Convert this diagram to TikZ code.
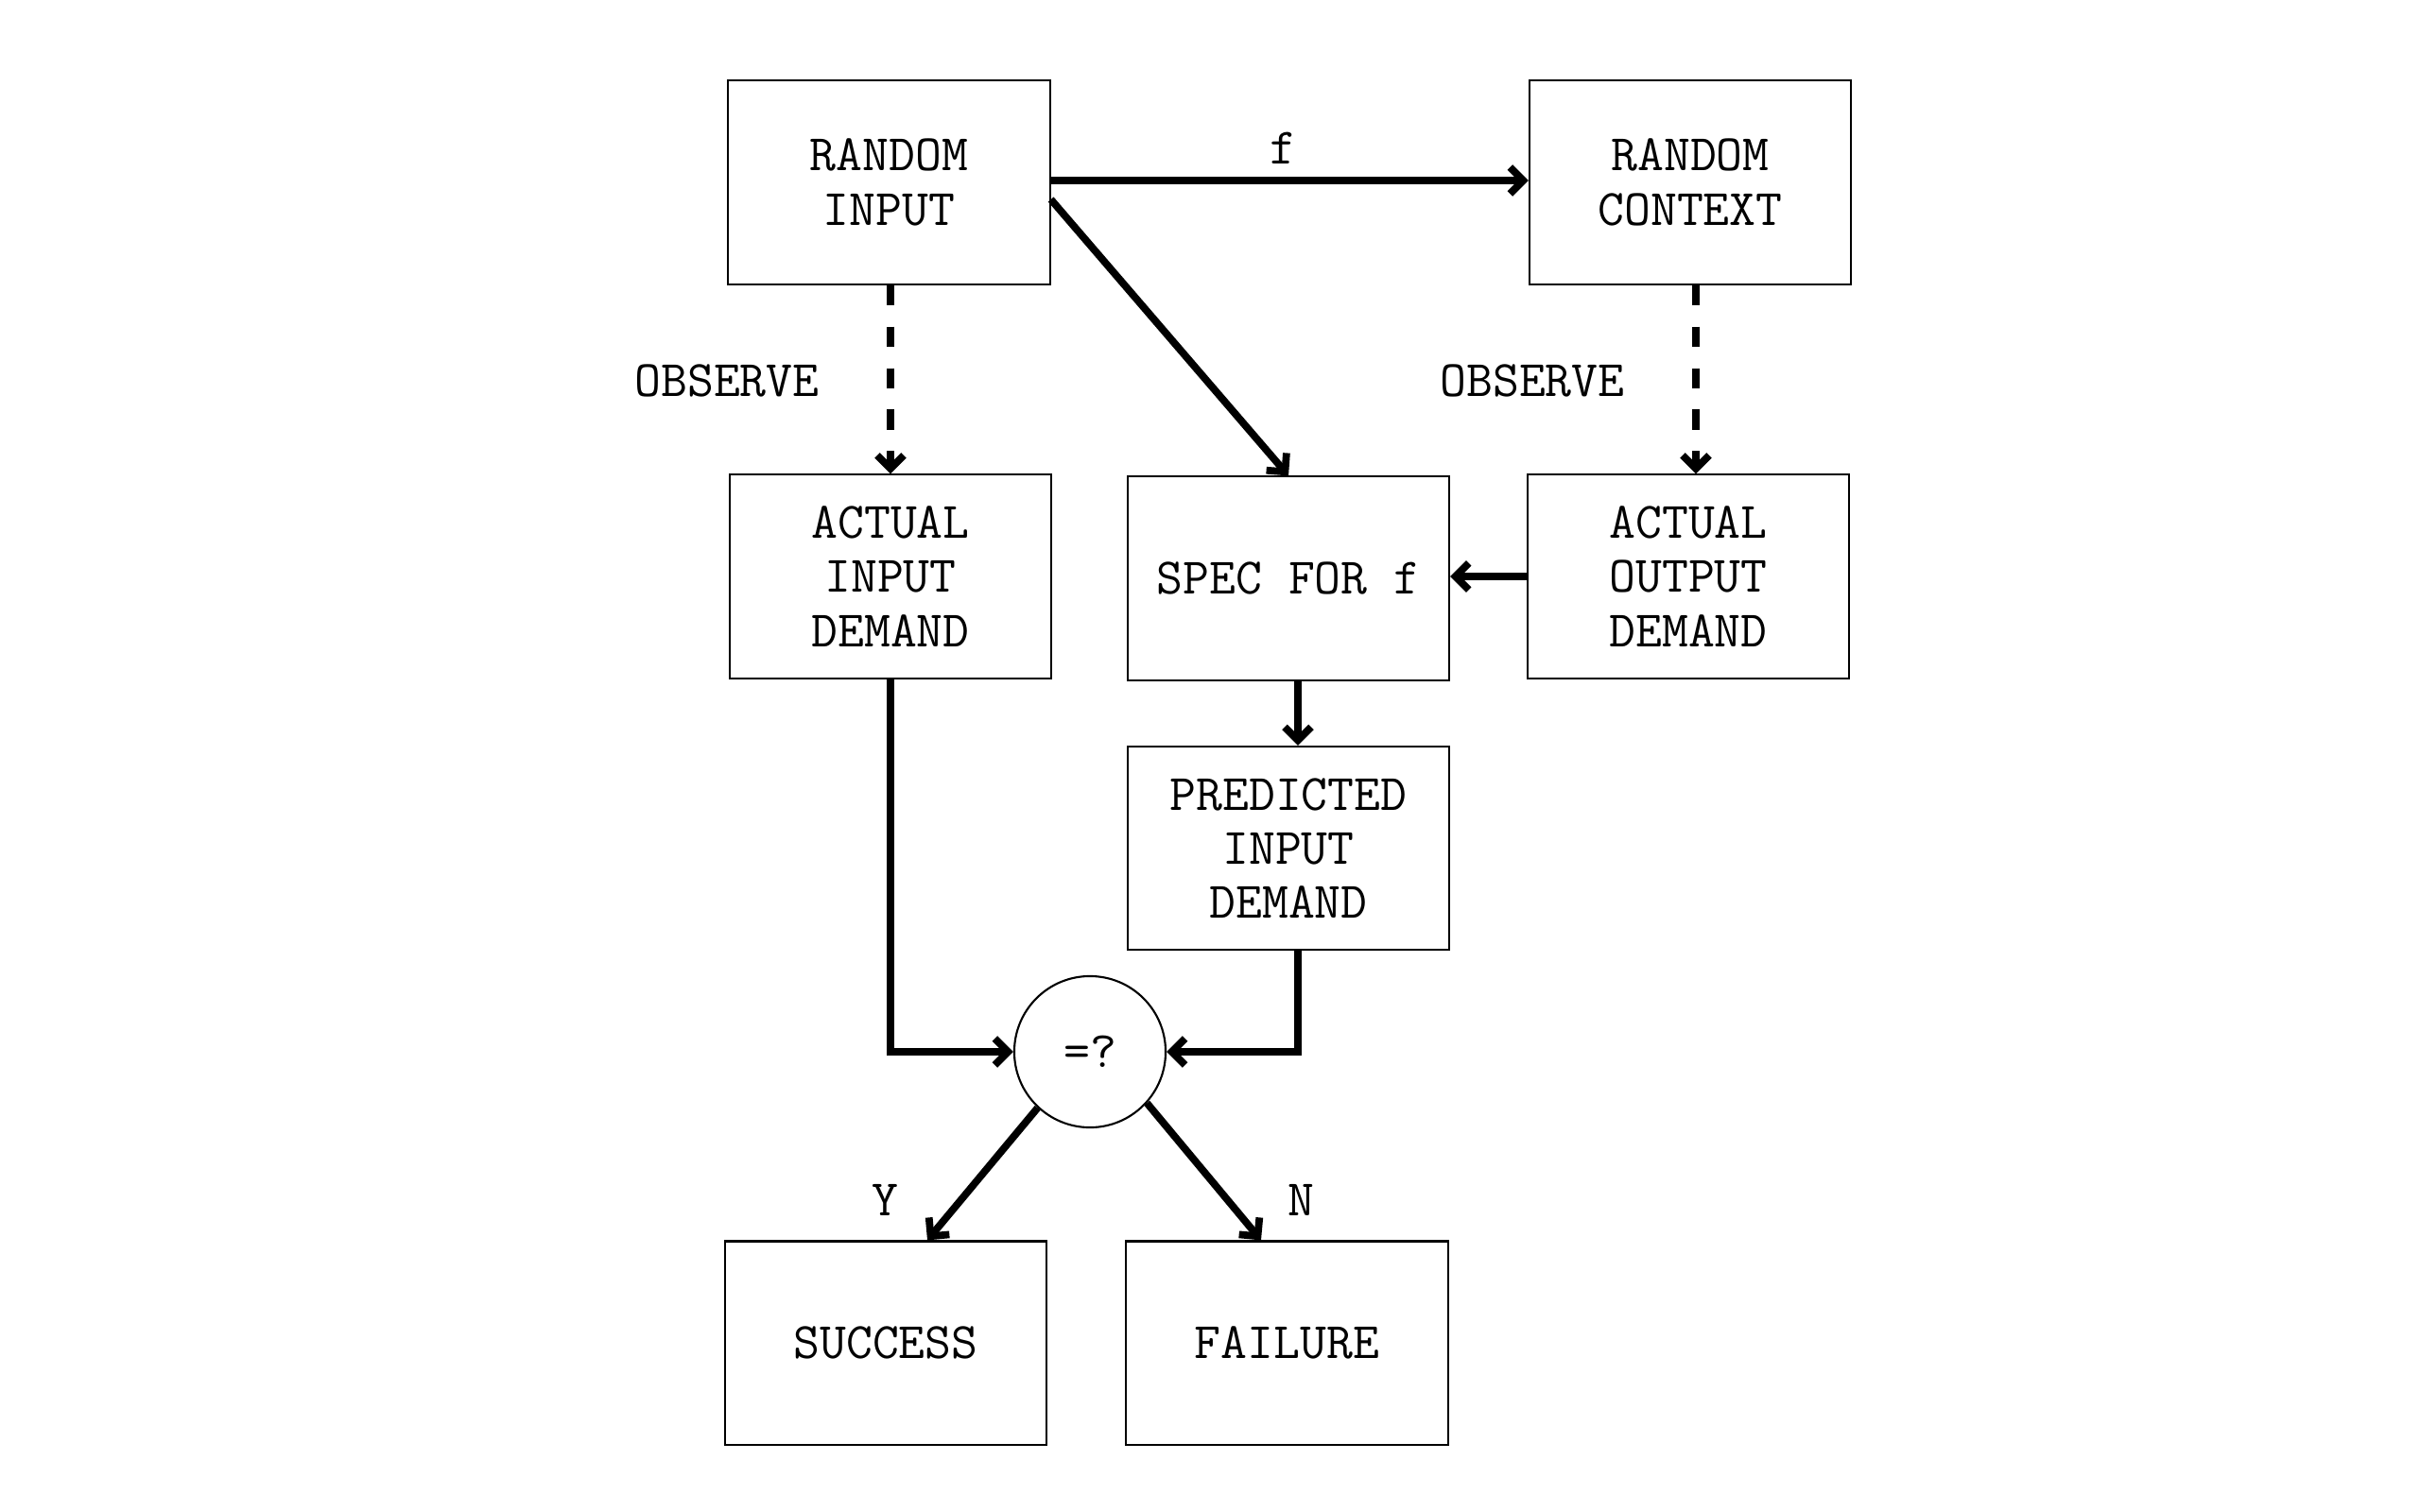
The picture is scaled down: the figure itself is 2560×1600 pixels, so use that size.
\documentclass[tikz,border=0pt]{standalone}
\usepackage{fontspec}
\usetikzlibrary{arrows.meta}
\begin{document}
\begin{tikzpicture}[x=0.01cm,y=-0.01cm,
  txt/.style={font=\ttfamily\fontsize{15.4pt}{16.3pt}\selectfont},
  box/.style={txt,draw,line width=0.6pt,minimum width=3.4cm,minimum height=2.15cm,align=center,inner sep=0pt},
  lbl/.style={txt,inner sep=0pt},
  arr/.style={line width=2.2pt,-{Straight Barb[length=4pt,width=8pt]}},
  darr/.style={arr,dash pattern=on 6pt off 6.5pt}]
\useasboundingbox (0,0) rectangle (2560,1600);
\node[box] (ri) at (940.5,193) {RANDOM\\INPUT};
\node[box] (rc) at (1788,193) {RANDOM\\CONTEXT};
\node[box] (aid) at (942,610) {ACTUAL\\INPUT\\DEMAND};
\node[box] (spec) at (1363,612) {SPEC FOR f};
\node[box] (aod) at (1786,610) {ACTUAL\\OUTPUT\\DEMAND};
\node[box] (pred) at (1363,897.5) {PREDICTED\\INPUT\\DEMAND};
\node[txt,draw,circle,line width=0.6pt,minimum size=1.6cm,inner sep=0pt] (cmp) at (1153,1113) {=?};
\node[box] (succ) at (937,1421) {SUCCESS};
\node[box] (fail) at (1361.5,1421) {FAILURE};
\node[lbl] (lf) at (1357,157) {f};
\node[lbl] (lo1) at (769,403) {OBSERVE};
\node[lbl] (lo2) at (1621,403) {OBSERVE};
\node[lbl] (ly) at (936,1270) {Y};
\node[lbl] (ln) at (1376,1270) {N};
\draw[arr] ([yshift=0.02cm]ri.east) -- ([yshift=0.02cm]rc.west);
\draw[arr] ([yshift=-0.18cm]ri.east) -- (spec.north);
\draw[darr] (aid.north |- ri.south) -- (aid.north);
\draw[darr] ([xshift=0.06cm]rc.south) -- ([xshift=0.06cm]rc.south |- aod.north);
\draw[arr] (aod.west) -- (aod.west -| spec.east);
\draw[arr] ([xshift=0.1cm]spec.south) -- ([xshift=0.1cm]pred.north);
\draw[arr] (aid.south) |- (cmp.west);
\draw[arr] ([xshift=0.1cm]pred.south) |- (cmp.east);
\draw[arr] (cmp.227) -- ([xshift=0.44cm]succ.north);
\draw[arr] (cmp.318) -- ([xshift=-0.275cm]fail.north);
\end{tikzpicture}
\end{document}
